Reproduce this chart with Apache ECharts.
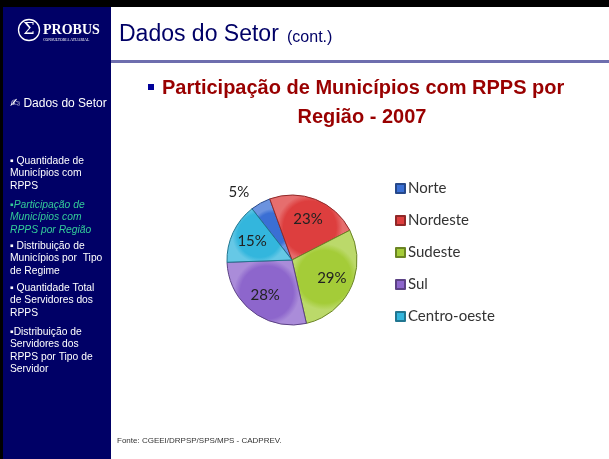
<!DOCTYPE html>
<html>
<head>
<meta charset="utf-8">
<script src="https://cdn.jsdelivr.net/npm/echarts@6/dist/echarts.min.js"></script>
<style>
  html, body { margin: 0; padding: 0; background: #ffffff; }
  #chart { width: 609px; height: 459px; }
</style>
</head>
<body>
<div id="chart"></div>
<script>
// ---- data ----
const categories = ['Norte', 'Nordeste', 'Sudeste', 'Sul', 'Centro-oeste'];
const shares = [5, 23, 29, 28, 15];
const sliceColors = ['#3a6fd4', '#dd3e3e', '#a4cc38', '#8d66cc', '#33b6dd'];
const headerTitle = 'Dados do Setor';
const headerSub = '(cont.)';
const chartTitleLines = ['Participação de Municípios com RPPS por', 'Região - 2007'];
const sideHeading = '✍ Dados do Setor';
const menuItems = [
  '▪ Quantidade de\nMunicípios com\nRPPS',
  '▪Participação de\nMunicípios com\nRPPS por Região',
  '▪ Distribuição de\nMunicípios por  Tipo\nde Regime',
  '▪ Quantidade Total\nde Servidores dos\nRPPS',
  '▪Distribuição de\nServidores dos\nRPPS por Tipo de\nServidor'
];
const activeMenu = 1;
const sourceText = 'Fonte: CGEEI/DRPSP/SPS/MPS - CADPREV.';

// ---- build ----
const chart = echarts.init(document.getElementById('chart'), null, { renderer: 'canvas' });

function lighten(hex, amt) {
  const n = parseInt(hex.slice(1), 16);
  let r = (n >> 16) & 255, g = (n >> 8) & 255, b = n & 255;
  r = Math.round(r + (255 - r) * amt); g = Math.round(g + (255 - g) * amt); b = Math.round(b + (255 - b) * amt);
  return 'rgb(' + r + ',' + g + ',' + b + ')';
}
function darken(hex, amt) {
  const n = parseInt(hex.slice(1), 16);
  let r = (n >> 16) & 255, g = (n >> 8) & 255, b = n & 255;
  return 'rgb(' + Math.round(r * (1 - amt)) + ',' + Math.round(g * (1 - amt)) + ',' + Math.round(b * (1 - amt)) + ')';
}

const pieData = categories.map((name, i) => ({
  name: name,
  value: shares[i],
  itemStyle: {
    color: {
      type: 'radial', x: 0.5, y: 0.5, r: 0.5,
      colorStops: [
        { offset: 0, color: sliceColors[i] },
        { offset: 0.8, color: sliceColors[i] },
        { offset: 1, color: lighten(sliceColors[i], 0.25) }
      ]
    },
    borderColor: darken(sliceColors[i], 0.35)
  },
  label: i === 0 ? { show: true } : { show: false }
}));

const ghostData = categories.map((name, i) => ({
  name: name,
  value: shares[i],
  label: { show: i !== 0 }
}));

const menuGraphics = [];
const menuTops = [155, 199, 240, 282, 326];
menuItems.forEach((txt, i) => {
  menuGraphics.push({
    type: 'text', left: 10, top: menuTops[i],
    style: {
      text: txt,
      fill: i === activeMenu ? '#33cc99' : '#ffffff',
      font: (i === activeMenu ? 'italic ' : '') + '10.3px "Liberation Sans", Arial, sans-serif',
      lineHeight: 12.4
    }
  });
});

const option = {
  backgroundColor: '#ffffff',
  animation: false,
  legend: {
    orient: 'vertical',
    left: 390,
    top: 176,
    itemWidth: 9,
    itemHeight: 9,
    itemGap: 17,
    icon: 'rect',
    data: categories,
    textStyle: { fontFamily: 'Lato, "Open Sans", sans-serif', fontSize: 15, color: '#333333', padding: [0, 0, 0, -2] }
  },
  graphic: [
    { type: 'rect', shape: { x: 0, y: 0, width: 609, height: 7 }, style: { fill: '#000000' }, silent: true },
    { type: 'rect', shape: { x: 0, y: 0, width: 3, height: 459 }, style: { fill: '#000000' }, silent: true },
    { type: 'rect', shape: { x: 3, y: 7, width: 108, height: 452 }, style: { fill: '#000066' }, silent: true },
    { type: 'rect', shape: { x: 111, y: 60, width: 498, height: 3 }, style: { fill: '#6e6eae' }, silent: true },
    { type: 'circle', shape: { cx: 29, cy: 30, r: 10.5 }, style: { fill: 'none', stroke: '#ffffff', lineWidth: 1.3 }, silent: true },
    { type: 'text', x: 29, y: 30, style: { text: 'Σ', fill: '#ffffff', font: '16px "DejaVu Serif", serif', align: 'center', verticalAlign: 'middle' } },
    { type: 'text', x: 43, y: 30, style: { text: 'PROBUS', fill: '#ffffff', font: 'bold 14px "Liberation Serif", "DejaVu Serif", serif', verticalAlign: 'middle' } },
    { type: 'text', x: 43, y: 40, style: { text: 'CONSULTORIA ATUARIAL', fill: '#ffffff', font: '3.8px "Liberation Serif", serif', verticalAlign: 'middle' } },
    { type: 'text', x: 119, y: 35, style: { text: headerTitle, fill: '#000066', font: '23px "Liberation Sans", Arial, sans-serif', verticalAlign: 'middle' } },
    { type: 'text', x: 287, y: 38, style: { text: headerSub, fill: '#000066', font: '16px "Liberation Sans", Arial, sans-serif', verticalAlign: 'middle' } },
    { type: 'text', x: 10, y: 104, style: { text: sideHeading, fill: '#ffffff', font: '12px "Liberation Sans", "DejaVu Sans", Arial, sans-serif', verticalAlign: 'middle' } },
    ...menuGraphics,
    { type: 'rect', shape: { x: 148, y: 84, width: 6, height: 6 }, style: { fill: '#000099' }, silent: true },
    { type: 'text', x: 162, y: 88, style: { text: chartTitleLines[0], fill: '#990000', font: 'bold 20px "Liberation Sans", Arial, sans-serif', verticalAlign: 'middle' } },
    { type: 'text', x: 362, y: 117, style: { text: chartTitleLines[1], fill: '#990000', font: 'bold 20px "Liberation Sans", Arial, sans-serif', align: 'center', verticalAlign: 'middle' } },
    { type: 'text', x: 117, y: 441, style: { text: sourceText, fill: '#333333', font: '8px "Liberation Sans", Arial, sans-serif', verticalAlign: 'middle' } }
  ],
  series: [
    {
      type: 'pie',
      name: 'main',
      center: [292, 260],
      radius: [0, 65],
      startAngle: 128,
      clockwise: true,
      avoidLabelOverlap: false,
      label: {
        position: 'outside',
        formatter: '{d}%',
        fontFamily: 'Lato, "Open Sans", sans-serif',
        fontSize: 15,
        color: '#222222'
      },
      labelLine: { show: false, length: 13, length2: 0 },
      emphasis: { disabled: true },
      data: pieData
    },
    {
      type: 'pie',
      name: 'labels',
      center: [292, 260],
      radius: [0, 82],
      startAngle: 128,
      clockwise: true,
      silent: true,
      legendHoverLink: false,
      itemStyle: { color: 'rgba(0,0,0,0)', borderWidth: 0 },
      label: {
        position: 'inside',
        formatter: '{d}%',
        fontFamily: 'Lato, "Open Sans", sans-serif',
        fontSize: 15,
        color: '#222222'
      },
      labelLine: { show: false },
      emphasis: { disabled: true },
      data: ghostData
    }
  ]
};
chart.setOption(option);
</script>
</body>
</html>
